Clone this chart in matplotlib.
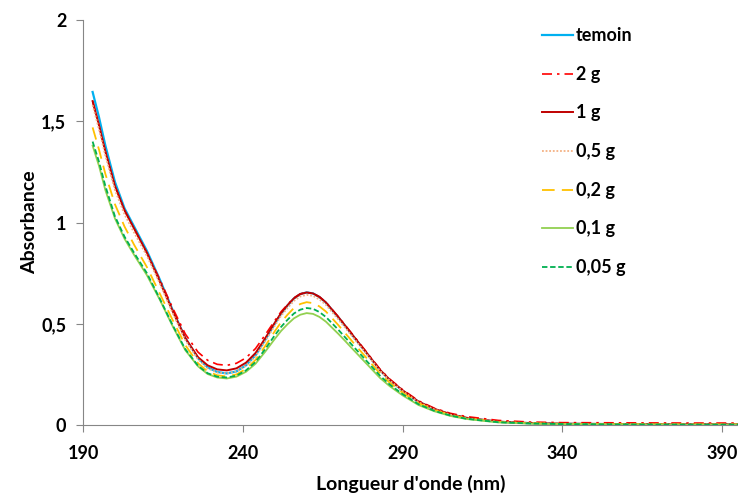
import numpy as np
import matplotlib.pyplot as plt

plt.rcParams['font.family'] = ['Lato', 'DejaVu Sans']
plt.rcParams['font.weight'] = 'bold'

# longueurs d'onde (nm)
wl = [193, 195, 197, 200, 203, 206, 210, 214, 218, 222, 226, 229, 232, 235,
      238, 241, 244, 247, 250, 252, 254, 256, 258, 260, 262, 264, 266, 268,
      270, 272, 274, 277, 280, 283, 286, 290, 295, 300, 305, 310, 320, 330,
      340, 360, 380, 395]

temoin = [1.645, 1.52, 1.38, 1.20, 1.07, 0.98, 0.86, 0.72, 0.57, 0.43, 0.33,
          0.285, 0.262, 0.255, 0.265, 0.295, 0.345, 0.42, 0.50, 0.55, 0.59,
          0.625, 0.647, 0.655, 0.65, 0.632, 0.605, 0.567, 0.53, 0.49, 0.45,
          0.39, 0.33, 0.27, 0.222, 0.17, 0.115, 0.078, 0.052, 0.035, 0.016,
          0.009, 0.006, 0.004, 0.003, 0.003]
g2 = [1.60, 1.48, 1.35, 1.18, 1.06, 0.97, 0.85, 0.72, 0.58, 0.45, 0.36,
      0.32, 0.30, 0.295, 0.305, 0.332, 0.378, 0.445, 0.515, 0.56, 0.595,
      0.628, 0.648, 0.655, 0.65, 0.633, 0.607, 0.57, 0.533, 0.494, 0.455,
      0.395, 0.335, 0.275, 0.227, 0.175, 0.12, 0.083, 0.058, 0.042, 0.023,
      0.015, 0.012, 0.011, 0.01, 0.01]
g1 = [1.60, 1.48, 1.35, 1.18, 1.06, 0.97, 0.85, 0.71, 0.565, 0.43, 0.335,
      0.295, 0.275, 0.27, 0.28, 0.308, 0.356, 0.428, 0.505, 0.553, 0.592,
      0.626, 0.647, 0.655, 0.65, 0.633, 0.606, 0.569, 0.532, 0.492, 0.452,
      0.392, 0.332, 0.272, 0.224, 0.172, 0.116, 0.08, 0.054, 0.036, 0.017,
      0.01, 0.007, 0.005, 0.004, 0.004]
g05 = [1.58, 1.46, 1.33, 1.16, 1.04, 0.95, 0.835, 0.70, 0.555, 0.42, 0.325,
       0.28, 0.26, 0.255, 0.265, 0.293, 0.34, 0.413, 0.49, 0.54, 0.578,
       0.613, 0.635, 0.643, 0.638, 0.62, 0.594, 0.557, 0.52, 0.482, 0.443,
       0.385, 0.326, 0.267, 0.22, 0.168, 0.113, 0.077, 0.051, 0.034, 0.016,
       0.009, 0.006, 0.004, 0.003, 0.003]
g02 = [1.47, 1.36, 1.24, 1.09, 0.98, 0.89, 0.78, 0.65, 0.52, 0.395, 0.305,
       0.265, 0.246, 0.24, 0.25, 0.277, 0.322, 0.39, 0.463, 0.508, 0.545,
       0.578, 0.598, 0.607, 0.602, 0.586, 0.561, 0.527, 0.492, 0.455, 0.418,
       0.363, 0.308, 0.254, 0.209, 0.16, 0.108, 0.074, 0.049, 0.033, 0.015,
       0.009, 0.006, 0.004, 0.003, 0.003]
g01 = [1.38, 1.28, 1.16, 1.02, 0.92, 0.84, 0.74, 0.62, 0.49, 0.37, 0.29,
       0.252, 0.235, 0.23, 0.239, 0.263, 0.303, 0.362, 0.425, 0.465, 0.498,
       0.527, 0.545, 0.553, 0.549, 0.534, 0.511, 0.48, 0.449, 0.416, 0.382,
       0.332, 0.282, 0.232, 0.192, 0.147, 0.099, 0.068, 0.045, 0.03, 0.013,
       0.007, 0.004, 0.003, 0.002, 0.002]
g005 = [1.40, 1.30, 1.18, 1.03, 0.93, 0.85, 0.75, 0.625, 0.495, 0.375, 0.293,
        0.256, 0.239, 0.235, 0.244, 0.27, 0.312, 0.375, 0.443, 0.485, 0.52,
        0.551, 0.57, 0.578, 0.574, 0.558, 0.534, 0.502, 0.469, 0.434, 0.399,
        0.347, 0.295, 0.243, 0.2, 0.153, 0.103, 0.07, 0.047, 0.031, 0.014,
        0.008, 0.005, 0.003, 0.002, 0.002]

fig = plt.figure(figsize=(7.38, 4.96), dpi=100)
ax = fig.add_axes([0.1125, 0.143, 0.8875, 0.8165])

ax.plot(wl, temoin, color='#00B0F0', lw=1.6, label='temoin')
ax.plot(wl, g2, color='#FF0000', lw=1.2, linestyle=(0, (6, 3, 1.5, 3)), label='2 g')
ax.plot(wl, g1, color='#C00000', lw=1.4, label='1 g')
ax.plot(wl, g05, color='#F4B183', lw=1.3, linestyle=(0, (1, 1)), label='0,5 g')
ax.plot(wl, g02, color='#FFC000', lw=1.3, linestyle=(0, (7, 4)), label='0,2 g')
ax.plot(wl, g01, color='#92D050', lw=1.3, label='0,1 g')
ax.plot(wl, g005, color='#00B050', lw=1.3, linestyle=(0, (3, 1.5)), label='0,05 g')

ax.set_xlim(190, 395)
ax.set_ylim(0, 2)
ax.set_xticks([190, 240, 290, 340, 390])
ax.set_yticks([0, 0.5, 1, 1.5, 2])
ax.set_yticklabels(['0', '0,5', '1', '1,5', '2'])
ax.spines['top'].set_visible(False)
ax.spines['right'].set_visible(False)
for s in ['left', 'bottom']:
    ax.spines[s].set_color('#868686')
ax.tick_params(colors='#868686', labelcolor='black', labelsize=13, length=5)
ax.tick_params(axis='x', pad=9.5)
ax.tick_params(axis='y', pad=7)
ax.set_xlabel("Longueur d'onde (nm)", fontsize=14, fontweight='bold', labelpad=9)
ax.set_ylabel('Absorbance', fontsize=14, fontweight='bold', labelpad=2)

ax.legend(loc='upper left', bbox_to_anchor=(0.713, 0.978), bbox_transform=fig.transFigure,
          frameon=False, fontsize=13, handlelength=1.7, handletextpad=0.15,
          labelspacing=1.2)

fig.savefig('out.png', dpi=100)
